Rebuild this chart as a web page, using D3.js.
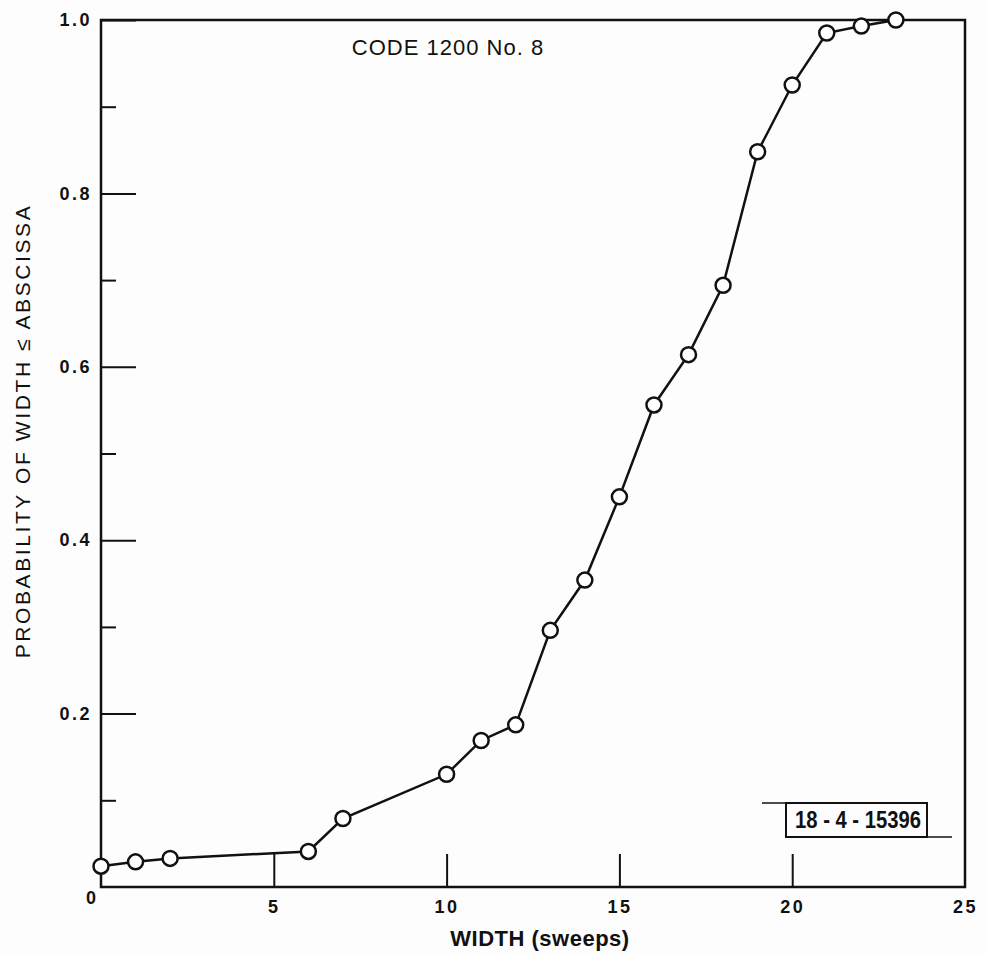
<!DOCTYPE html>
<html>
<head>
<meta charset="utf-8">
<script src="https://cdn.jsdelivr.net/npm/d3@7"></script>
<style>
  body { margin: 0; background: #fdfdfd; }
  text { font-family: "Liberation Sans", Arial, sans-serif; fill: #111; }
</style>
</head>
<body>
<script>
// cumulative distribution of pulse width
var widths = [0, 1, 2, 6, 7, 10, 11, 12, 13, 14, 15, 16, 17, 18, 19, 20, 21, 22, 23];
var probs = [0.024, 0.029, 0.033, 0.041, 0.079, 0.130, 0.169, 0.187, 0.296, 0.354, 0.450,
             0.556, 0.614, 0.694, 0.848, 0.925, 0.985, 0.993, 1.0];

var xTicks = [5, 10, 15, 20, 25];
var yTicks = [0.2, 0.4, 0.6, 0.8, 1.0];
var yMinor = [0.1, 0.3, 0.5, 0.7, 0.9];

var width = 988, height = 955;
var margin_l = 101, margin_r = 23, margin_t = 20, margin_b = 68;

var svg = d3.select("body").append("svg")
    .attr("width", width)
    .attr("height", height);

var x = d3.scaleLinear().domain([0, 25]).range([margin_l, width - margin_r]);
var y = d3.scaleLinear().domain([0, 1]).range([height - margin_b, margin_t]);

// frame
svg.append("rect")
    .attr("x", x(0)).attr("y", y(1))
    .attr("width", x(25) - x(0)).attr("height", y(0) - y(1))
    .attr("fill", "none").attr("stroke", "#111").attr("stroke-width", 2.5);

// y axis, ticks pointing inward
var yAxis = svg.append("g")
    .attr("transform", "translate(" + x(0) + ",0)")
    .call(d3.axisLeft(y).tickValues(yTicks).tickSize(-35).tickPadding(9).tickFormat(d3.format(".1f")));
yAxis.select(".domain").remove();
yAxis.selectAll("line").attr("stroke", "#111").attr("stroke-width", 2);
yAxis.selectAll("text")
    .style("font-size", "18px").style("font-weight", "bold").style("letter-spacing", "2.5px")
    .style("font-family", "Liberation Sans, Arial, sans-serif").attr("fill", "#111");

var yMinorAxis = svg.append("g")
    .attr("transform", "translate(" + x(0) + ",0)")
    .call(d3.axisLeft(y).tickValues(yMinor).tickSize(-15).tickFormat(""));
yMinorAxis.select(".domain").remove();
yMinorAxis.selectAll("line").attr("stroke", "#111").attr("stroke-width", 2);

// x axis, ticks pointing up
var xAxis = svg.append("g")
    .attr("transform", "translate(0," + y(0) + ")")
    .call(d3.axisBottom(x).tickValues(xTicks).tickSize(-33).tickPadding(13));
xAxis.select(".domain").remove();
xAxis.selectAll("line").attr("stroke", "#111").attr("stroke-width", 2);
xAxis.selectAll(".tick").filter(function(d) { return d === 25; }).select("line").remove();
xAxis.selectAll("text")
    .style("font-size", "18px").style("font-weight", "bold").style("letter-spacing", "2.5px")
    .style("font-family", "Liberation Sans, Arial, sans-serif").attr("fill", "#111");

// origin label
svg.append("text")
    .attr("x", x(0) - 10).attr("y", y(0) + 17)
    .style("text-anchor", "middle").style("font-size", "18px").style("font-weight", "bold")
    .text("0");

// the curve
var line = d3.line()
    .x(function(d, i) { return x(widths[i]); })
    .y(function(d) { return y(d); });

svg.append("path")
    .datum(probs)
    .attr("d", line)
    .attr("fill", "none").attr("stroke", "#111").attr("stroke-width", 2.5);

svg.selectAll(".pt")
  .data(probs)
  .enter().append("circle")
    .attr("class", "pt")
    .attr("cx", function(d, i) { return x(widths[i]); })
    .attr("cy", function(d) { return y(d); })
    .attr("r", 7.5)
    .attr("fill", "#fff").attr("stroke", "#111").attr("stroke-width", 2.5);

// title
svg.append("text")
    .attr("x", 448).attr("y", 55)
    .style("text-anchor", "middle").style("font-size", "22px")
    .style("letter-spacing", "1px")
    .text("CODE 1200 No. 8");

// axis titles
svg.append("text")
    .attr("x", 540).attr("y", 946)
    .style("text-anchor", "middle").style("font-size", "22px").style("font-weight", "bold")
    .style("letter-spacing", "0.5px")
    .text("WIDTH (sweeps)");

svg.append("text")
    .attr("transform", "translate(30," + 431 + ") rotate(-90)")
    .style("text-anchor", "middle").style("font-size", "21px")
    .style("letter-spacing", "2.6px")
    .text("PROBABILITY OF WIDTH \u2264 ABSCISSA");

// drawing number stamp
var stamp = svg.append("g");
stamp.append("rect")
    .attr("x", 786).attr("y", 803).attr("width", 141).attr("height", 34)
    .attr("fill", "none").attr("stroke", "#111").attr("stroke-width", 2);
stamp.append("line").attr("x1", 762).attr("x2", 786).attr("y1", 803).attr("y2", 803)
    .attr("stroke", "#111").attr("stroke-width", 1.5);
stamp.append("line").attr("x1", 927).attr("x2", 952).attr("y1", 837).attr("y2", 837)
    .attr("stroke", "#111").attr("stroke-width", 1.5);
stamp.append("text")
    .attr("x", 795).attr("y", 828)
    .attr("textLength", 126).attr("lengthAdjust", "spacingAndGlyphs")
    .style("font-size", "24px").style("font-weight", "bold")
    .text("18 - 4 - 15396");
</script>
</body>
</html>
